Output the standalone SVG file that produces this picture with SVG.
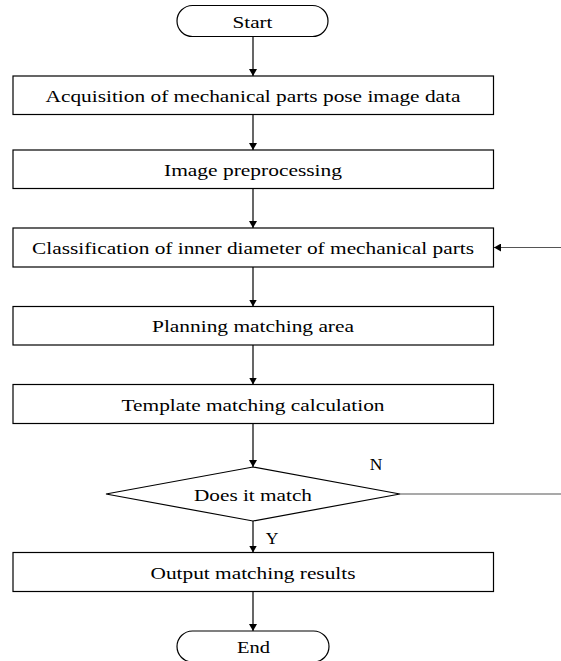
<svg xmlns="http://www.w3.org/2000/svg" width="561" height="661" viewBox="0 0 561 661">
<style>
.box{fill:#fff;stroke:#000;stroke-width:1.2}
.t{font-family:"Liberation Serif","Times New Roman",serif;font-size:17.5px;fill:#000;text-anchor:middle}
.c{fill:none;stroke:#000;stroke-width:1.2}
.g{fill:none;stroke:#555;stroke-width:1.2}
</style>
<defs>
<marker id="ah" viewBox="0 0 10 10" refX="10" refY="5" markerWidth="7" markerHeight="8" markerUnits="userSpaceOnUse" orient="auto" preserveAspectRatio="none">
<path d="M0,0 L10,5 L0,10 z" fill="#000"/>
</marker>
</defs>
<rect width="561" height="661" fill="#fff"/>
<g id="connectors">
<line class="c" x1="253" y1="36.5" x2="253" y2="76" marker-end="url(#ah)"/>
<line class="c" x1="253" y1="114.5" x2="253" y2="150" marker-end="url(#ah)"/>
<line class="c" x1="253" y1="188.5" x2="253" y2="228" marker-end="url(#ah)"/>
<line class="c" x1="253" y1="267" x2="253" y2="306.5" marker-end="url(#ah)"/>
<line class="c" x1="253" y1="345" x2="253" y2="384.5" marker-end="url(#ah)"/>
<line class="c" x1="253" y1="423.5" x2="253" y2="467" marker-end="url(#ah)"/>
<line class="c" x1="253" y1="521" x2="253" y2="552.5" marker-end="url(#ah)"/>
<line class="c" x1="253" y1="591.5" x2="253" y2="631" marker-end="url(#ah)"/>
<path class="g" d="M400,494 H562 V247.5 H494" marker-end="url(#ah)"/>
<text class="t" x="376" y="470">N</text>
<text class="t" x="272" y="544">Y</text>
</g>
<g id="start">
<rect class="box" x="177" y="5.5" width="151" height="31" rx="15.5" ry="15.5"/>
<text class="t" x="252.5" y="27.5" textLength="40" lengthAdjust="spacingAndGlyphs">Start</text>
</g>
<g id="acquisition">
<rect class="box" x="13" y="76" width="480.5" height="38.5"/>
<text class="t" x="253" y="101.5" textLength="415" lengthAdjust="spacingAndGlyphs">Acquisition of mechanical parts pose image data</text>
</g>
<g id="preprocessing">
<rect class="box" x="13" y="150" width="480.5" height="38.5"/>
<text class="t" x="253" y="175.5" textLength="178" lengthAdjust="spacingAndGlyphs">Image preprocessing</text>
</g>
<g id="classification">
<rect class="box" x="13" y="228" width="480.5" height="39"/>
<text class="t" x="253" y="254" textLength="442" lengthAdjust="spacingAndGlyphs">Classification of inner diameter of mechanical parts</text>
</g>
<g id="planning">
<rect class="box" x="13" y="306.5" width="480.5" height="38.5"/>
<text class="t" x="253" y="332" textLength="202" lengthAdjust="spacingAndGlyphs">Planning matching area</text>
</g>
<g id="template">
<rect class="box" x="13" y="384.5" width="480.5" height="39"/>
<text class="t" x="253" y="410.5" textLength="263" lengthAdjust="spacingAndGlyphs">Template matching calculation</text>
</g>
<g id="decision">
<polygon class="box" points="253,467 400,494 253,521 106,494"/>
<text class="t" x="253" y="500.5" textLength="118" lengthAdjust="spacingAndGlyphs">Does it match</text>
</g>
<g id="output">
<rect class="box" x="13" y="552.5" width="480.5" height="39"/>
<text class="t" x="253" y="578.5" textLength="205" lengthAdjust="spacingAndGlyphs">Output matching results</text>
</g>
<g id="end">
<rect class="box" x="177" y="631" width="152" height="31" rx="15.5" ry="15.5"/>
<text class="t" x="253.5" y="652.5" textLength="33" lengthAdjust="spacingAndGlyphs">End</text>
</g>
</svg>
